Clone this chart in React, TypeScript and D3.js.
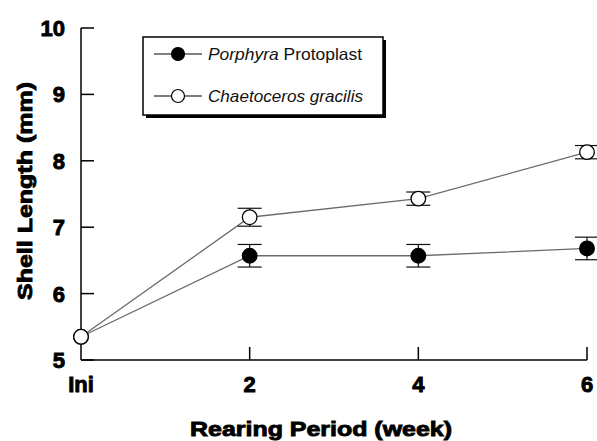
import React from "react";
import * as d3 from "d3";

const weeks = [0, 2, 4, 6];
const xTickLabels = ["Ini", "2", "4", "6"];
const yTicks = [5, 6, 7, 8, 9, 10];
const porphyraMean = [5.35, 6.57, 6.57, 6.68];
const porphyraErr = [0, 0.17, 0.17, 0.17];
const chaetoMean = [5.35, 7.15, 7.43, 8.13];
const chaetoErr = [0, 0.135, 0.1, 0.1];

const W = 597;
const H = 441;
const x = d3.scaleLinear().domain([0, 6]).range([81, 587]);
const y = d3.scaleLinear().domain([5, 10]).range([360, 28]);

const FONT = "'Liberation Sans', Arial, sans-serif";

function Series({ means, errs, filled }: { means: number[]; errs: number[]; filled: boolean }) {
  const pts = weeks.map((w, i) => [x(w), y(means[i])] as [number, number]);
  const line = d3.line()(pts) || "";
  return (
    <g>
      <path d={line} fill="none" stroke="#6a6a6a" strokeWidth={1.3} />
      {weeks.map((w, i) => {
        if (!errs[i]) return null;
        const cx = x(w);
        const y1 = y(means[i] + errs[i]);
        const y2 = y(means[i] - errs[i]);
        return (
          <g key={i} stroke="#111" strokeWidth={1.2}>
            <line x1={cx} x2={cx} y1={y1} y2={y2} />
            <line x1={cx - 12} x2={cx + 12} y1={y1} y2={y1} />
            <line x1={cx - 12} x2={cx + 12} y1={y2} y2={y2} />
          </g>
        );
      })}
      {pts.map((p, i) => (
        <circle key={i} cx={p[0]} cy={p[1]} r={7.3} fill={filled ? "#000" : "#fff"} stroke="#000" strokeWidth={1.3} />
      ))}
    </g>
  );
}

export default function App() {
  const bold = { fontFamily: FONT, fontWeight: "bold" as const, stroke: "#000", strokeWidth: 0.9 };
  return (
    <svg width={W} height={H} style={{ position: "absolute", left: 0, top: 0 }}>
      <rect width={W} height={H} fill="#fff" />
      {/* axes */}
      <g stroke="#000" strokeWidth={1.5} fill="none">
        <line x1={x(0)} x2={x(0)} y1={y(10)} y2={y(5)} />
        <line x1={x(0)} x2={x(6)} y1={y(5)} y2={y(5)} />
        {yTicks.map((t) => (
          <line key={t} x1={x(0)} x2={x(0) + 13} y1={y(t)} y2={y(t)} />
        ))}
        {weeks.slice(1).map((w) => (
          <line key={w} x1={x(w)} x2={x(w)} y1={y(5)} y2={y(5) - 13} />
        ))}
      </g>
      {yTicks.map((t) => (
        <text key={t} x={65} y={y(t)} dy="0.36em" textAnchor="end" fontSize={22} {...bold}>
          {t}
        </text>
      ))}
      {weeks.map((w, i) => (
        <text key={w} x={x(w)} y={384} dy="0.36em" textAnchor="middle" fontSize={22} {...bold}>
          {xTickLabels[i]}
        </text>
      ))}
      <text x={321} y={428} dy="0.36em" textAnchor="middle" fontSize={21} textLength={262} lengthAdjust="spacingAndGlyphs" {...bold}>
        Rearing Period (week)
      </text>
      <text transform={`translate(24,191) rotate(-90)`} dy="0.36em" textAnchor="middle" fontSize={21} textLength={218} lengthAdjust="spacingAndGlyphs" {...bold}>
        Shell Length (mm)
      </text>

      <Series means={porphyraMean} errs={porphyraErr} filled={true} />
      <Series means={chaetoMean} errs={chaetoErr} filled={false} />

      {/* legend */}
      <g>
        <rect x={146} y={40} width={240} height={78} fill="#000" />
        <rect x={143} y={37} width={240} height={78} fill="#fff" stroke="#000" strokeWidth={1.5} />
        <line x1={154} x2={202} y1={54} y2={54} stroke="#000" strokeWidth={1.2} />
        <circle cx={178} cy={54} r={6.5} fill="#000" stroke="#000" strokeWidth={1.2} />
        <line x1={154} x2={202} y1={96} y2={96} stroke="#000" strokeWidth={1.2} />
        <circle cx={178} cy={96} r={6.5} fill="#fff" stroke="#000" strokeWidth={1.2} />
        <text x={208} y={54} dy="0.36em" fontFamily={FONT} fontSize={16.5} fill="#111" textLength={154} lengthAdjust="spacingAndGlyphs">
          <tspan fontStyle="italic">Porphyra</tspan> Protoplast
        </text>
        <text x={208} y={96} dy="0.36em" fontFamily={FONT} fontSize={16.5} fill="#111" fontStyle="italic" textLength={155} lengthAdjust="spacingAndGlyphs">
          Chaetoceros gracilis
        </text>
      </g>
    </svg>
  );
}
